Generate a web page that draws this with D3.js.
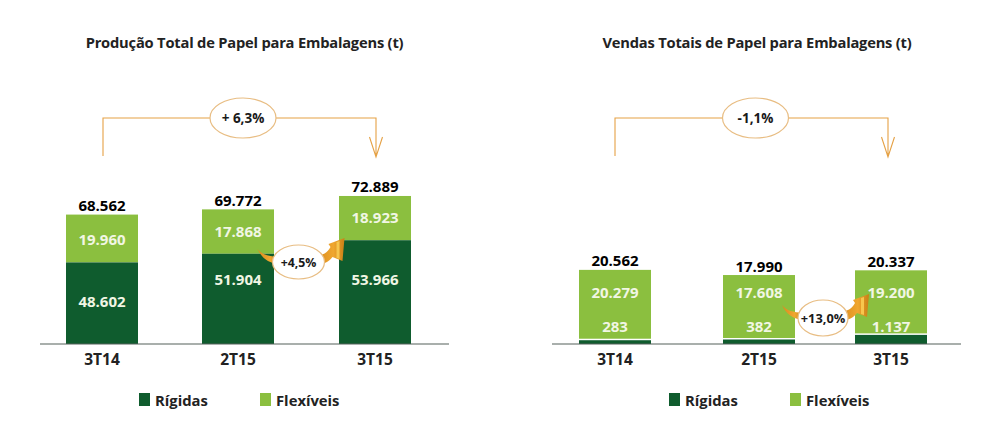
<!DOCTYPE html>
<html><head><meta charset="utf-8">
<script src="https://cdn.jsdelivr.net/npm/d3@7/dist/d3.min.js"></script>
<style>
html,body{margin:0;padding:0;background:#fff}
svg{display:block}
text{font-family:"Open Sans","Noto Sans",sans-serif;font-weight:700}
</style></head><body>
<svg id="c" width="1006" height="440"></svg>
<script>
const categories = ["3T14","2T15","3T15"];
const seriesNames = ["Rígidas","Flexíveis"];
const prodRigidas = [48602,51904,53966];
const prodFlexiveis = [19960,17868,18923];
const prodTotal = [68562,69772,72889];
const vendRigidas = [283,382,1137];
const vendFlexiveis = [20279,17608,19200];
const vendTotal = [20562,17990,20337];
const prodTitle = "Produção Total de Papel para Embalagens (t)";
const vendTitle = "Vendas Totais de Papel para Embalagens (t)";
const prodChange = "+ 6,3%", prodQoQ = "+4,5%";
const vendChange = "-1,1%", vendQoQ = "+13,0%";
const fmt = v => d3.format(",")(v).replace(/,/g,".");

const DARK="#0f5c2e", LIGHT="#8bbf3f", ORANGE="#e5a145", RING="#e8bd83", INK="#1a1a1a", ONBAR="#f1f6e4";
const svg=d3.select("#c");
const BASE=344, BAR=72;

// The source bars are not drawn in proportion to their values, so each panel
// uses a calibrated piecewise scale with round-number stops.
const panels=[
 {title:prodTitle,tx:244.5,rig:prodRigidas,fle:prodFlexiveis,tot:prodTotal,centers:[102,238,375],
  axis:[40,449],
  stops:[0,48000,52000,54000,68000,73000],heights:[0,80,90.5,104,127,148.5],gap:0,
  labelFle:[239,231,217],labelRig:[301,279,279],
  br:[103,376],pill:243,change:prodChange,qoq:prodQoQ,qc:[298.5,262],qr:[26,17],qs:12.3,
  leg:[139,260]},
 {title:vendTitle,tx:757,rig:vendRigidas,fle:vendFlexiveis,tot:vendTotal,centers:[615,759,891],
  axis:[552,961],
  stops:[0,300,1200,18000,21000],heights:[0,4,9.5,69,75],gap:1.5,
  labelFle:[292,292,292],labelRig:[326,326,326],
  br:[615,888],pill:755.5,change:vendChange,qoq:vendQoQ,qc:[823,318],qr:[25,18],qs:12.8,
  leg:[669,790]}
];

function label(s,x,y,t,size,fill,anchor="middle"){
  return s.append("text").attr("x",x).attr("y",y).attr("text-anchor",anchor)
    .attr("dominant-baseline","central").attr("font-size",size).attr("fill",fill).text(t);
}

const defs=svg.append("defs");
const grad=defs.append("linearGradient").attr("id","swoosh").attr("x1","0").attr("x2","1").attr("y1","0").attr("y2","0");
grad.append("stop").attr("offset","0").attr("stop-color","#d98a1e");
grad.append("stop").attr("offset","0.6").attr("stop-color","#f0a72f");
grad.append("stop").attr("offset","1").attr("stop-color","#c97f16");

panels.forEach(p=>{
  const g=svg.append("g");
  const x=d3.scaleOrdinal().domain(categories).range(p.centers);
  const h=d3.scaleLinear().domain(p.stops).range(p.heights);
  const y=v=>BASE-h(v);

  label(g,p.tx,42,p.title,14.7,"#222").attr("letter-spacing","-0.2");

  // bracket
  g.append("path").attr("fill","none").attr("stroke",ORANGE).attr("stroke-width",1.1)
    .attr("d",`M${p.br[0]},156V118H${p.br[1]}V157M${p.br[1]-6.5},137L${p.br[1]},157L${p.br[1]+6.5},137`);
  g.append("ellipse").attr("cx",p.pill).attr("cy",118).attr("rx",33).attr("ry",20)
    .attr("fill","#fff").attr("stroke",RING).attr("stroke-width",1.2);
  label(g,p.pill,118,p.change,13.5,INK);

  // stacks
  const rows=categories.map((c,i)=>({c,i,r:p.rig[i],f:p.fle[i],t:p.tot[i]}));
  g.selectAll(".fle").data(rows).join("rect").attr("x",d=>x(d.c)-BAR/2).attr("width",BAR)
    .attr("y",d=>y(d.t)).attr("height",d=>y(d.r)-y(d.t)-p.gap).attr("fill",LIGHT);
  g.selectAll(".rig").data(rows).join("rect").attr("x",d=>x(d.c)-BAR/2).attr("width",BAR)
    .attr("y",d=>y(d.r)).attr("height",d=>BASE-y(d.r)).attr("fill",DARK);

  // axis line
  g.append("line").attr("x1",p.axis[0]).attr("x2",p.axis[1]).attr("y1",BASE).attr("y2",BASE)
    .attr("stroke","#55605a").attr("stroke-width",1.2);

  rows.forEach(d=>{
    label(g,x(d.c),y(d.t)-9.5,fmt(d.t),15,"#000");
    label(g,x(d.c),p.labelFle[d.i],fmt(d.f),15,ONBAR);
    label(g,x(d.c),p.labelRig[d.i],fmt(d.r),15,ONBAR);
    label(g,x(d.c),359,d.c,15.5,"#222");
  });

  // quarter-over-quarter callout
  const [cx,cy]=p.qc;
  const q=g.append("g").attr("transform",`translate(${cx},${cy})`);
  q.append("path").attr("fill","url(#swoosh)")
    .attr("d","M-41,-13C-36,-7 -30,-6 -20,-5L-20,2C-30,1 -37,-4 -41,-13Z");
  q.append("path").attr("fill","url(#swoosh)")
    .attr("d","M18,-6C24,-7 29,-9 32,-15L30,-18L46,-24L44,-1L34,-5C30,0 26,2 18,3Z");
  q.append("path").attr("fill","#f7c64e").attr("d","M38,-20L41,-21L41,-3L38,-4Z");
  q.append("ellipse").attr("rx",p.qr[0]).attr("ry",p.qr[1])
    .attr("fill","#fff").attr("stroke",RING).attr("stroke-width",1.2);
  label(q,0,0,p.qoq,p.qs,INK);

  // legend
  [DARK,LIGHT].forEach((col,i)=>{
    g.append("rect").attr("x",p.leg[i]).attr("y",393).attr("width",11).attr("height",13).attr("fill",col);
    label(g,p.leg[i]+16,399.5,seriesNames[i],14.8,"#222","start");
  });
});
</script>
</body></html>
